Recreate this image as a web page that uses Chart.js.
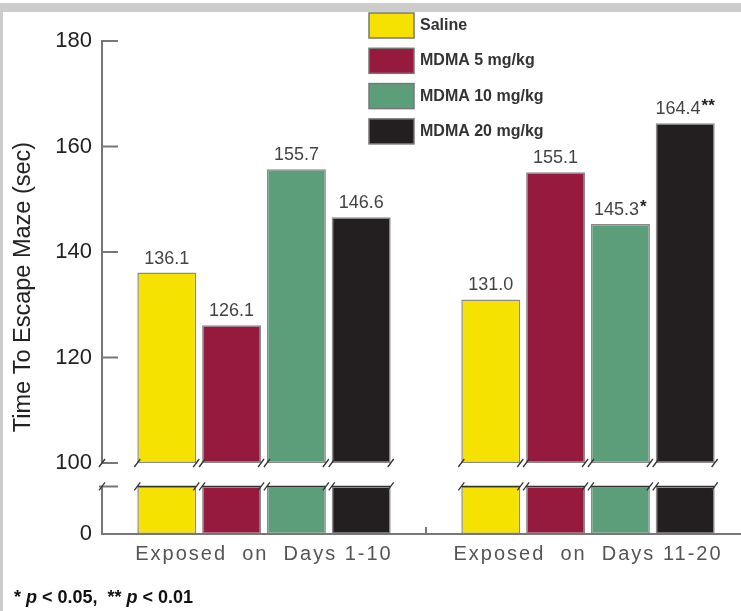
<!DOCTYPE html>
<html>
<head>
<meta charset="utf-8">
<script src="https://cdn.jsdelivr.net/npm/chart.js@4.4.0/dist/chart.umd.min.js"></script>
<style>
  html, body { margin: 0; padding: 0; background: #fff; overflow: hidden; }
  #wrap { position: relative; width: 741px; height: 611px; overflow: hidden; }
  #chart { position: absolute; left: 0; top: 0; }
  #topband { position: absolute; left: 0; top: 3px; width: 741px; height: 9px; background: #cccccc; }
  #leftband { position: absolute; left: 0; top: 3px; width: 3px; height: 608px; background: #cccccc; }
  #note { position: absolute; left: 14px; top: 587px; font: bold 18px "Liberation Sans", Arial, sans-serif; color: #111; white-space: pre; }
</style>
</head>
<body>
<div id="wrap">
  <canvas id="chart" width="750" height="611"></canvas>
  <div id="topband"></div>
  <div id="leftband"></div>
  <div id="note">* <i>p</i> &lt; 0.05,  ** <i>p</i> &lt; 0.01</div>
</div>
<script>
// Data
const groups = ["Exposed  on  Days 1-10", "Exposed  on  Days 11-20"];
const treatments = ["Saline", "MDMA 5 mg/kg", "MDMA 10 mg/kg", "MDMA 20 mg/kg"];
const saline = [136.1, 131.0];
const mdma5 = [126.1, 155.1];
const mdma10 = [155.7, 145.3];
const mdma20 = [146.6, 164.4];
const stars = [["", ""], ["", ""], ["", "*"], ["", "**"]];
const yTicks = [100, 120, 140, 160, 180];
const lowTicks = [0];

const series = [saline, mdma5, mdma10, mdma20];
const colors = ["#f6e200", "#961a3d", "#5b9e79", "#231f20"];
const lowStub = 6.7; // height of the stubs below the axis break
const font = '"Liberation Sans", Arial, Helvetica, sans-serif';
Chart.defaults.font.family = font;

// upper part (100-180) and lower stub (0) of every bar share a slot
const barStyle = (i) => ({
  stack: "s" + i,
  backgroundColor: colors[i],
  borderColor: "#8a8a8a",
  borderWidth: 1.5,
  borderSkipped: false,
  categoryPercentage: 0.8,
  barPercentage: 0.91
});
const datasets = [];
series.forEach((vals, i) => {
  datasets.push({ label: treatments[i], data: vals.map(v => [100, v]), yAxisID: "y", ...barStyle(i) });
});
series.forEach((vals, i) => {
  datasets.push({ label: treatments[i] + " (low)", data: vals.map(() => lowStub), yAxisID: "y2", ...barStyle(i) });
});

// wider letter spacing for the category labels
const xSpacingPlugin = {
  id: "xSpacing",
  beforeDraw(chart) {
    const sx = chart.scales.x;
    if (sx._spaced) return;
    const orig = sx.drawLabels.bind(sx);
    sx.drawLabels = function (area) {
      const prev = chart.ctx.letterSpacing;
      chart.ctx.letterSpacing = "2px";
      orig(area);
      chart.ctx.letterSpacing = prev;
    };
    sx._spaced = true;
  }
};

const decorPlugin = {
  id: "decor",
  afterDatasetsDraw(chart) {
    const ctx = chart.ctx;
    const y = chart.scales.y, y2 = chart.scales.y2, x = chart.scales.x;
    const left = chart.chartArea.left;
    const p100 = y.getPixelForValue(100);
    const pStub = y2.getPixelForValue(lowStub);
    const p0 = y2.getPixelForValue(0);

    ctx.save();
    // axis lines and inward ticks
    ctx.strokeStyle = "#777";
    ctx.lineWidth = 2;
    ctx.beginPath();
    ctx.moveTo(left, y.getPixelForValue(180) - 1);
    ctx.lineTo(left, p100);
    ctx.moveTo(left, pStub);
    ctx.lineTo(left, p0);
    ctx.moveTo(left - 1, p0);
    ctx.lineTo(chart.width, p0);
    yTicks.forEach(t => {
      const py = y.getPixelForValue(t);
      ctx.moveTo(left, py);
      ctx.lineTo(left + 16, py);
    });
    ctx.moveTo(left - 3, pStub);
    ctx.lineTo(left + 16, pStub);
    const mid = (x.getPixelForValue(0) + x.getPixelForValue(1)) / 2;
    ctx.moveTo(mid, p0);
    ctx.lineTo(mid, p0 - 7);
    ctx.stroke();

    // break slashes
    ctx.strokeStyle = "#333";
    ctx.lineWidth = 1.3;
    const slash = (sx, sy) => {
      ctx.moveTo(sx - 3, sy + 4);
      ctx.lineTo(sx + 3, sy - 4);
    };
    ctx.beginPath();
    slash(left, p100);
    slash(left, pStub);
    for (let i = 0; i < 4; i++) {
      chart.getDatasetMeta(i).data.forEach(el => {
        slash(el.x - el.width / 2, el.base);
        slash(el.x + el.width / 2, el.base);
      });
      chart.getDatasetMeta(i + 4).data.forEach(el => {
        slash(el.x - el.width / 2, el.y);
        slash(el.x + el.width / 2, el.y);
        ctx.moveTo(el.x - el.width / 2, el.y);
        ctx.lineTo(el.x + el.width / 2, el.y);
      });
    }
    ctx.stroke();

    // value labels
    ctx.textBaseline = "alphabetic";
    ctx.textAlign = "left";
    for (let i = 0; i < 4; i++) {
      chart.getDatasetMeta(i).data.forEach((el, j) => {
        const txt = series[i][j].toFixed(1);
        const st = stars[i][j];
        ctx.font = "18px " + font;
        const w1 = ctx.measureText(txt).width;
        ctx.font = "bold 17px " + font;
        const w2 = st ? ctx.measureText(st).width + 1 : 0;
        const x0 = el.x - (w1 + w2) / 2;
        ctx.fillStyle = "#444";
        ctx.font = "18px " + font;
        ctx.fillText(txt, x0, el.y - 9);
        if (st) {
          ctx.fillStyle = "#222";
          ctx.font = "bold 17px " + font;
          ctx.fillText(st, x0 + w1 + 1, el.y - 12);
        }
      });
    }

    // legend
    ctx.textBaseline = "middle";
    ctx.font = "bold 16px " + font;
    treatments.forEach((name, i) => {
      const by = 13 + i * 35.3;
      ctx.fillStyle = colors[i];
      ctx.fillRect(369, by, 45, 25);
      ctx.strokeStyle = "#777";
      ctx.lineWidth = 1.5;
      ctx.strokeRect(369, by, 45, 25);
      ctx.fillStyle = "#333";
      ctx.fillText(name, 420, by + 12.5);
    });

    // y axis title, centred on both parts of the axis
    ctx.translate(24, 287);
    ctx.rotate(-Math.PI / 2);
    ctx.textAlign = "center";
    ctx.font = "23.5px " + font;
    ctx.fillStyle = "#222";
    ctx.fillText("Time To Escape Maze (sec)", 0, 0);
    ctx.restore();
  }
};

new Chart(document.getElementById("chart"), {
  type: "bar",
  data: { labels: groups, datasets: datasets },
  options: {
    responsive: false,
    animation: false,
    layout: { padding: { top: 41, left: 0, right: 0, bottom: 0 } },
    plugins: { legend: { display: false }, tooltip: { enabled: false } },
    scales: {
      x: {
        grid: { display: false, drawTicks: false },
        border: { display: false },
        ticks: { color: "#555", font: { size: 20 }, padding: 8, maxRotation: 0 },
        afterFit: s => { s.height = 77; }
      },
      // listed first so that it sits below "y" in the stack
      y2: {
        stack: "left",
        stackWeight: 71,
        stacked: false,
        min: 0,
        max: 10,
        grid: { display: false, drawTicks: false },
        border: { display: false },
        ticks: { color: "#222", font: { size: 22 }, padding: 10 },
        afterBuildTicks: s => { s.ticks = lowTicks.map(v => ({ value: v })); },
        afterFit: s => { s.width = 102; }
      },
      y: {
        stack: "left",
        stackWeight: 422,
        stacked: false,
        min: 100,
        max: 180,
        grid: { display: false, drawTicks: false },
        border: { display: false },
        ticks: { color: "#222", font: { size: 22 }, padding: 10 },
        afterBuildTicks: s => { s.ticks = yTicks.map(v => ({ value: v })); },
        afterFit: s => { s.width = 102; }
      }
    }
  },
  plugins: [xSpacingPlugin, decorPlugin]
});
</script>
</body>
</html>
